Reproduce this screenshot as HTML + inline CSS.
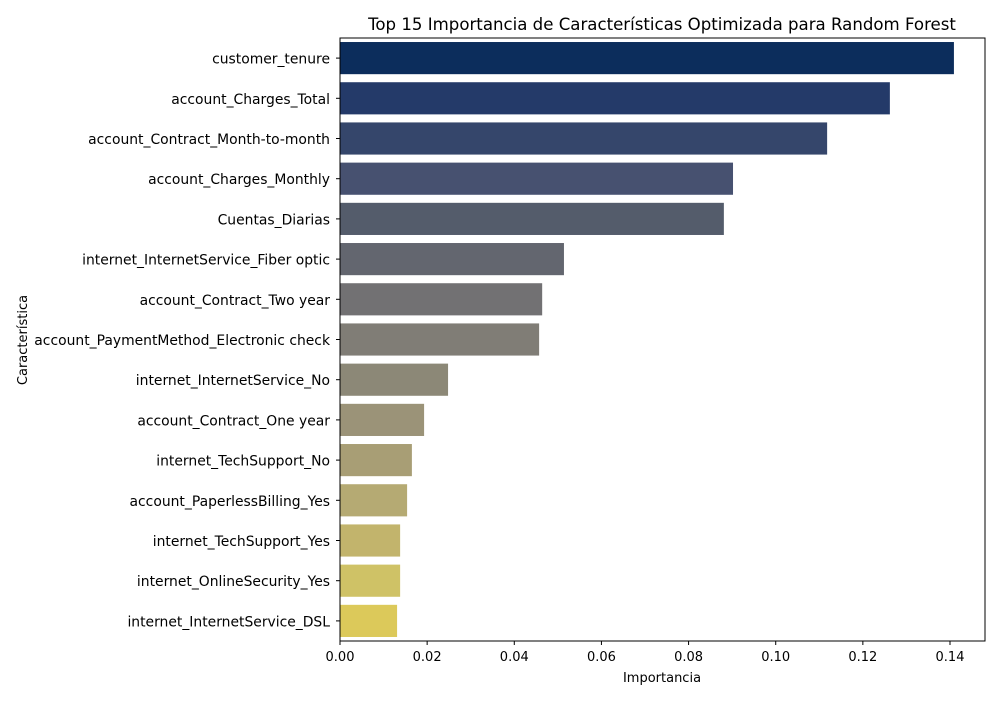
<!DOCTYPE html>
<html><head><meta charset="utf-8"><style>
body{margin:0;background:#fff;font-family:"Liberation Sans","DejaVu Sans",sans-serif;}
svg text{font-family:"DejaVu Sans","Liberation Sans",sans-serif;}
</style></head><body>
<svg id="chart" width="1000" height="700" xmlns="http://www.w3.org/2000/svg">
<rect width="1000" height="700" fill="#fff"/>
<text x="662" y="30" font-size="16.6" text-anchor="middle">Top 15 Importancia de Características Optimizada para Random Forest</text>
<g id="bars"></g><g id="yticks"></g><g id="xticks"></g>
<rect x="340" y="38" width="645" height="603" fill="none" stroke="#000" stroke-width="1"/>
<text x="662" y="682" font-size="13" text-anchor="middle">Importancia</text>
<text x="0" y="0" font-size="13" text-anchor="middle" transform="translate(27,340) rotate(-90)">Característica</text>
</svg>
<script>
const categories=["customer_tenure","account_Charges_Total","account_Contract_Month-to-month","account_Charges_Monthly","Cuentas_Diarias","internet_InternetService_Fiber optic","account_Contract_Two year","account_PaymentMethod_Electronic check","internet_InternetService_No","account_Contract_One year","internet_TechSupport_No","account_PaperlessBilling_Yes","internet_TechSupport_Yes","internet_OnlineSecurity_Yes","internet_InternetService_DSL"];
const importance=[0.1409,0.1262,0.1118,0.0902,0.0881,0.0514,0.0464,0.0457,0.0248,0.0193,0.0165,0.0154,0.0138,0.0138,0.0131];
const colors=["#0c2d5c","#243a69","#35466b","#475170","#545c6b","#63666f","#727173","#807d76","#8c8877","#9b9378","#a89e75","#b5aa73","#c2b46c","#cfc266","#dcc95a"];
const xTicks=[0,0.02,0.04,0.06,0.08,0.10,0.12,0.14];
const xTickLabels=["0.00","0.02","0.04","0.06","0.08","0.10","0.12","0.14"];
const NS="http://www.w3.org/2000/svg";
const x0=340,xScale=(950-340)/0.14,plotTop=38,plotBottom=641;
const band=(plotBottom-plotTop)/categories.length;
const xf=v=>x0+v*xScale, yf=i=>plotTop+i*band;
const gb=document.getElementById('bars'),gy=document.getElementById('yticks'),gx=document.getElementById('xticks');
function mk(t,a){const e=document.createElementNS(NS,t);for(const k in a)e.setAttribute(k,a[k]);return e;}
categories.forEach((c,i)=>{
 const r=mk('rect',{x:x0,y:yf(i)+band*0.1,width:xf(importance[i])-x0,height:band*0.8,fill:colors[i]});
 
 
 gb.appendChild(r);
 const cy=yf(i)+band/2;
 const tl=mk('line',{x1:x0-4,x2:x0,y1:cy,y2:cy,stroke:'#000'});
 
 
 gy.appendChild(tl);
 const t=mk('text',{x:x0-10,y:cy+5.5,'font-size':13.9,'text-anchor':'end'});
 t.textContent=c;
 
 
 gy.appendChild(t);
});
xTicks.forEach((v,i)=>{
 const l=mk('line',{x1:xf(v),x2:xf(v),y1:plotBottom,y2:plotBottom+4,stroke:'#000'});
 
 
 gx.appendChild(l);
 const t=mk('text',{x:xf(v),y:plotBottom+20,'font-size':13,'text-anchor':'middle'});
 t.textContent=xTickLabels[i];
 
 
 gx.appendChild(t);
});
</script>
</body></html>
